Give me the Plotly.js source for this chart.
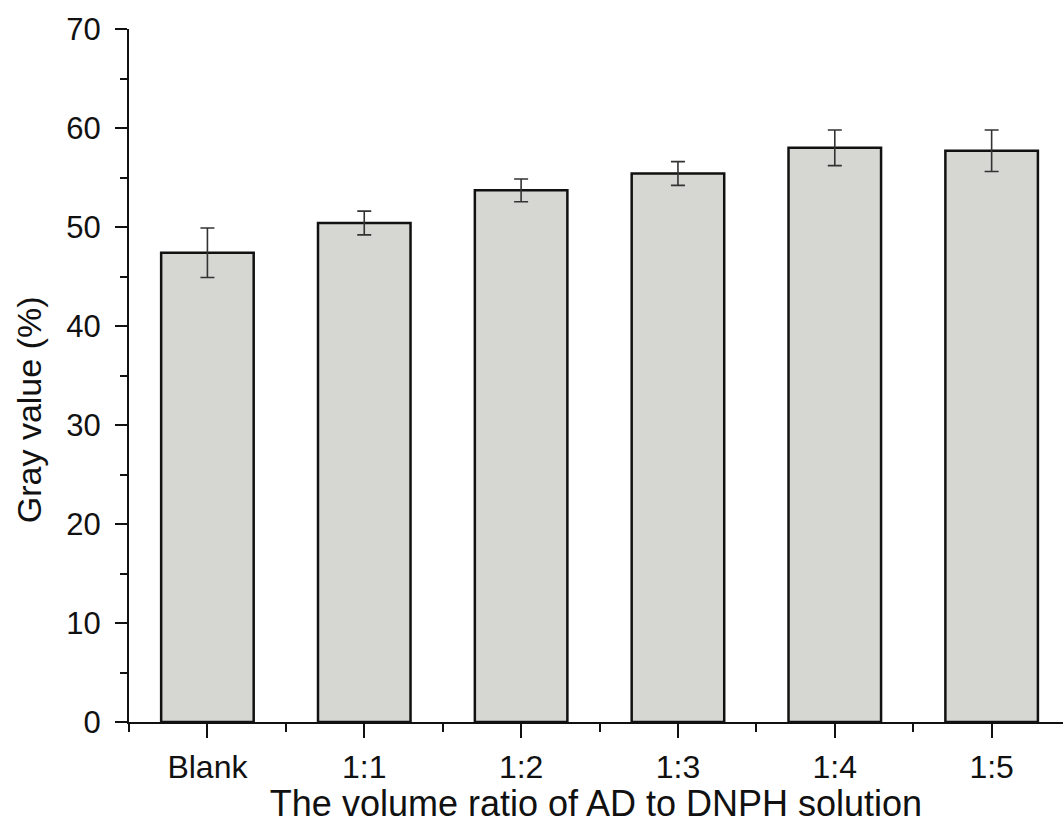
<!DOCTYPE html>
<html>
<head>
<meta charset="utf-8">
<script src="https://cdn.plot.ly/plotly-3.0.1.min.js"></script>
<style>
  html, body { margin: 0; padding: 0; background: #ffffff; }
  #chart { width: 1063px; height: 824px; }
</style>
</head>
<body>
<div id="chart"></div>
<script>
const categories = ["Blank", "1:1", "1:2", "1:3", "1:4", "1:5"];
const grayValues = [47.4, 50.4, 53.7, 55.4, 58.0, 57.7];
const grayErrors = [2.5, 1.2, 1.15, 1.2, 1.8, 2.1];
const yTickValues = [0, 10, 20, 30, 40, 50, 60, 70];
const xTitle = "The volume ratio of AD to DNPH solution";
const yTitle = "Gray value (%)";

const positions = categories.map((c, i) => i);

const trace = {
  type: "bar",
  x: positions,
  y: grayValues,
  width: 0.59,
  marker: {
    color: "#d6d6d3",
    line: { color: "#111111", width: 2.5 }
  },
  error_y: {
    type: "data",
    array: grayErrors,
    visible: true,
    color: "#333333",
    thickness: 1.6,
    width: 7
  },
  hoverinfo: "x+y"
};

const layout = {
  width: 1063,
  height: 824,
  margin: { l: 129, r: 0, t: 29, b: 102 },
  paper_bgcolor: "#ffffff",
  plot_bgcolor: "#ffffff",
  showlegend: false,
  font: { family: "Liberation Sans, Arial, sans-serif", color: "#111111" },
  xaxis: {
    range: [-0.5, 5.455],
    tickmode: "array",
    tickvals: positions,
    ticktext: categories,
    showgrid: false,
    zeroline: false,
    showline: true,
    linecolor: "#111111",
    linewidth: 2,
    ticks: "outside",
    ticklen: 14,
    tickwidth: 2,
    tickcolor: "#111111",
    tickfont: { size: 32, color: "#111111" },
    ticklabelstandoff: 2,
    minor: {
      tickmode: "linear",
      tick0: -0.5,
      dtick: 1,
      ticks: "outside",
      ticklen: 8,
      tickwidth: 2,
      tickcolor: "#111111",
      showgrid: false
    },
    title: {
      text: xTitle,
      font: { size: 36, color: "#111111" },
      standoff: 0
    }
  },
  yaxis: {
    range: [0, 70],
    tickmode: "array",
    tickvals: yTickValues,
    showgrid: false,
    zeroline: false,
    showline: true,
    linecolor: "#111111",
    linewidth: 2,
    ticks: "outside",
    ticklen: 12,
    tickwidth: 2,
    tickcolor: "#111111",
    tickfont: { size: 31, color: "#111111" },
    ticklabelstandoff: 8,
    minor: {
      tickmode: "linear",
      tick0: 5,
      dtick: 10,
      ticks: "outside",
      ticklen: 7,
      tickwidth: 2,
      tickcolor: "#111111",
      showgrid: false
    }
  },
  annotations: [{
    text: yTitle,
    xref: "paper",
    yref: "paper",
    x: -0.107,
    y: 0.45,
    xanchor: "center",
    yanchor: "middle",
    textangle: -90,
    showarrow: false,
    font: { size: 34, color: "#111111" }
  }]
};

Plotly.newPlot("chart", [trace], layout, { displayModeBar: false, staticPlot: true });
</script>
</body>
</html>
